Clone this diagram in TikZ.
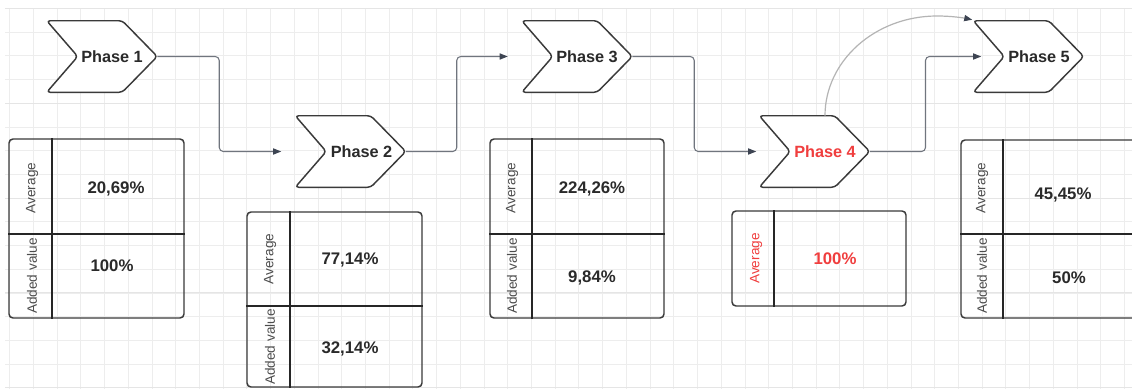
\documentclass[tikz,border=0pt]{standalone}
\usepackage{fontspec}
\setmainfont{Liberation Sans}
\usetikzlibrary{calc,arrows.meta,fit}

\definecolor{gridminor}{HTML}{EDEDED}
\definecolor{gridmajor}{HTML}{E5E5E5}
\definecolor{outline}{HTML}{3A3A3A}
\definecolor{divider}{HTML}{262626}
\definecolor{wire}{HTML}{70757E}
\definecolor{arc}{HTML}{B4B4B4}
\definecolor{tip}{HTML}{3D4452}
\definecolor{ink}{HTML}{2A2A2A}
\definecolor{soft}{HTML}{4D4D4D}
\definecolor{alert}{HTML}{F03E3E}

% one length unit = one pixel, y grows downwards
\tikzset{
  chevbox/.style={minimum width=82.5pt, minimum height=53.25pt, inner sep=0pt, draw=none},
  chevline/.style={draw=outline, fill=white, line width=1.1pt, rounded corners=2.5pt, line join=round},
  phasetxt/.style={font=\bfseries\fontsize{12.2}{14}\selectfont, text=ink, inner sep=0pt},
  tbl/.style={draw=outline, line width=1.1pt, rounded corners=3pt, inner sep=0pt},
  tbldiv/.style={draw=divider, line width=1.2pt},
  valtxt/.style={font=\bfseries\fontsize{12.6}{14}\selectfont, text=ink, inner sep=0pt},
  rowlbl/.style={font=\fontsize{10.2}{12}\selectfont, text=soft, rotate=90, inner sep=0pt},
  conn/.style={draw=wire, line width=0.8pt, rounded corners=3pt,
    -{Triangle[length=6pt,width=4.6pt,fill=tip,color=tip]}},
  arcconn/.style={draw=arc, line width=0.9pt,
    -{Triangle[length=6pt,width=4.6pt,fill=tip,color=tip]}},
}

\newcommand\chevron[1]{%
  \draw[chevline] (#1.north west) -- ($(#1.north east)+(-35,0)$) -- (#1.east)
    -- ($(#1.south east)+(-35,0)$) -- (#1.south west) -- ($(#1.west)+(31,0)$) -- cycle;}

\begin{document}
\begin{tikzpicture}[x=0.75pt,y=-0.75pt]
\clip (0,0) rectangle (1132,389);
\fill[white] (0,0) rectangle (1132,389);

% background grid
\foreach \i in {0,...,47}{\draw[gridminor, line width=0.6pt] ({9.6+23.72*\i},8) -- ++(0,385);}
\foreach \j in {0,...,16}{\draw[gridminor, line width=0.6pt] (5,{8.3+23.72*\j}) -- ++(1130,0);}
\foreach \j in {0,4,...,16}{\draw[gridmajor, line width=0.8pt] (5,{8.3+23.72*\j}) -- ++(1130,0);}

% phase chevrons
\node[chevbox] (p1) at (102,56.5) {};
\node[chevbox] (p2) at (350.5,151.5) {};
\node[chevbox] (p3) at (577,56.5) {};
\node[chevbox] (p4) at (814.5,151.5) {};
\node[chevbox] (p5) at (1028.5,56.5) {};
\chevron{p1}\chevron{p2}\chevron{p3}\chevron{p4}\chevron{p5}
\node[phasetxt] (p1l) at ($(p1.center)+(10,0)$) {Phase 1};
\node[phasetxt] (p2l) at ($(p2.center)+(11,0)$) {Phase 2};
\node[phasetxt] (p3l) at ($(p3.center)+(10,0)$) {Phase 3};
\node[phasetxt, text=alert] (p4l) at ($(p4.center)+(10.5,0)$) {Phase 4};
\node[phasetxt] (p5l) at ($(p5.center)+(10.5,0)$) {Phase 5};

% connectors
\coordinate (e1) at ($(p2.west)+(-14,0)$);
\coordinate (e2) at ($(p3.west)+(-14,0)$);
\coordinate (e3) at ($(p4.west)+(-3,0)$);
\coordinate (e4) at ($(p5.west)+(8,0)$);
\draw[conn] (p1.east) -| ($(p1.east)!0.5!(e1)$) |- (e1);
\draw[conn] (p2.east) -| ($(p2.east)!0.5!(e2)$) |- (e2);
\draw[conn] (p3.east) -| ($(p3.east)!0.5!(e3)$) |- (e3);
\draw[conn] (p4.east) -| ($(p4.east)!0.5!(e4)$) |- (e4);
\coordinate (s5) at ($(p4.north)+(10.5,0)$);
\coordinate (f5) at ($(p5.north west)+(-1,-1)$);
\draw[arcconn] (s5) .. controls (825,61) and (875,16) .. (937,16)
  .. controls (952,16) and (964,18) .. (f5);

% value tables
\node[tbl, fit={(9,139) (184,318)}] (t1) {};
\draw[tbldiv] ($(t1.north west)+(44,0)$) -- ($(t1.south west)+(44,0)$);
\draw[tbldiv] ($(t1.north west)+(0,96)$) -- ($(t1.north east)+(0,96)$);
\node[rowlbl] (t1a) at (32,188) {Average};
\node[rowlbl] (t1b) at (32,276) {Added value};
\node[valtxt] (t1v) at (116,189) {20,69\%};
\node[valtxt] (t1w) at (112,266) {100\%};

\node[tbl, fit={(247,212) (422,387)}] (t2) {};
\draw[tbldiv] ($(t2.north west)+(44,0)$) -- ($(t2.south west)+(44,0)$);
\draw[tbldiv] ($(t2.north west)+(0,95)$) -- ($(t2.north east)+(0,95)$);
\node[rowlbl] (t2a) at (270,259) {Average};
\node[rowlbl] (t2b) at (270,347) {Added value};
\node[valtxt] (t2v) at (350,260) {77,14\%};
\node[valtxt] (t2w) at (350,349) {32,14\%};

\node[tbl, fit={(490,139) (664,318)}] (t3) {};
\draw[tbldiv] ($(t3.north west)+(43,0)$) -- ($(t3.south west)+(43,0)$);
\draw[tbldiv] ($(t3.north west)+(0,96)$) -- ($(t3.north east)+(0,96)$);
\node[rowlbl] (t3a) at (512,188) {Average};
\node[rowlbl] (t3b) at (512,276) {Added value};
\node[valtxt] (t3v) at (592,189) {224,26\%};
\node[valtxt] (t3w) at (592,278) {9,84\%};

\node[tbl, fit={(732,211) (906,306)}] (t4) {};
\draw[tbldiv] ($(t4.north west)+(43,0)$) -- ($(t4.south west)+(43,0)$);
\node[rowlbl, text=alert] (t4a) at (756,258.5) {Average};
\node[valtxt, text=alert] (t4v) at (835,259) {100\%};

\node[tbl, fit={(961,140) (1145,318)}] (t5) {};
\draw[tbldiv] ($(t5.north west)+(43,0)$) -- ($(t5.south west)+(43,0)$);
\draw[tbldiv] ($(t5.north west)+(0,95)$) -- ($(t5.north east)+(0,95)$);
\node[rowlbl] (t5a) at (982,188) {Average};
\node[rowlbl] (t5b) at (982,276) {Added value};
\node[valtxt] (t5v) at (1063,195) {45,45\%};
\node[valtxt] (t5w) at (1069,278) {50\%};
\end{tikzpicture}
\end{document}
